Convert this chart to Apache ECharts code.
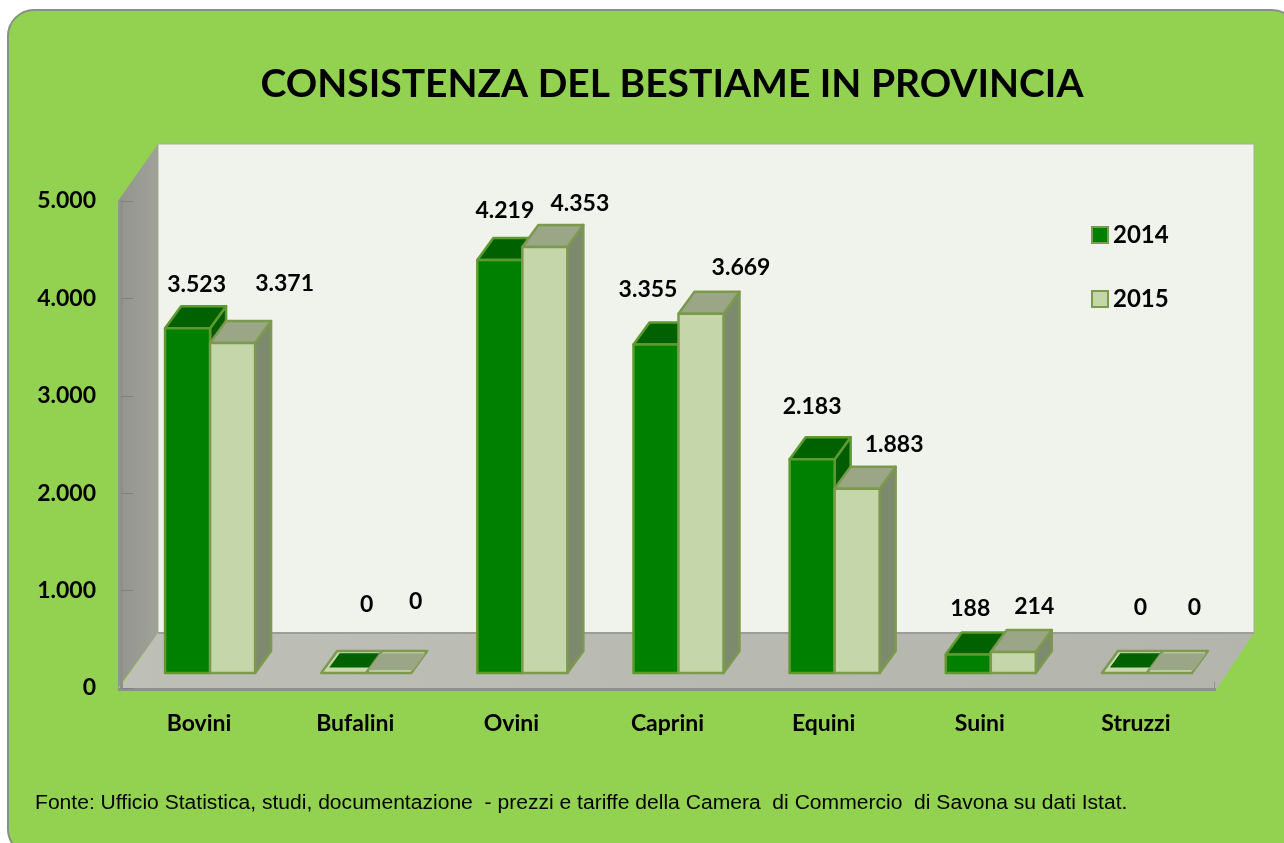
<!DOCTYPE html>
<html>
<head>
<meta charset="utf-8">
<style>
  html, body { margin: 0; padding: 0; background: #fff; }
  #chart { width: 1284px; height: 843px; }
</style>
<script src="https://cdn.jsdelivr.net/npm/echarts@6/dist/echarts.min.js"></script>
</head>
<body>
<div id="chart"></div>
<script>
const categories = ['Bovini', 'Bufalini', 'Ovini', 'Caprini', 'Equini', 'Suini', 'Struzzi'];
const values2014 = [3523, 0, 4219, 3355, 2183, 188, 0];
const values2015 = [3371, 0, 4353, 3669, 1883, 214, 0];

// the value labels were moved by hand in the original, so each has its own nudge
const nudge2014 = [[9, -44], [23, -68], [5, -49], [-8, -55], [0, -53], [2, -46], [16, -65]];
const nudge2015 = [[52, -59], [27, -71], [35, -43], [40, -46], [37, -44], [21, -45], [25, -65]];

const BG = '#92d250';
const LABEL_FONT = 'Lato, "Open Sans", sans-serif';

const DEPTH_X = 40, DEPTH_Y = -56;  // wall depth
const BAR_DX = 11, BAR_DY = -15;    // bars stand a bit behind the front edge
const TOP_DX = 16, TOP_DY = -22;    // depth of a bar
const BAR_W = 45;

const palette2014 = { front: '#008000', top: '#006100', side: '#005c00', rim: '#c9d8b0', edge: '#5f9a2e' };
const palette2015 = { front: '#c6d6ab', top: '#9ba687', side: '#7e8a6d', rim: '#c9d8b0', edge: '#7c9a4e' };

function fmt(v) {
    return String(v).replace(/\B(?=(\d{3})+$)/g, '.');
}

function poly(points, fill, stroke, lw) {
    return {
        type: 'polygon',
        shape: { points: points },
        style: { fill: fill, stroke: stroke || null, lineWidth: lw || 0, lineJoin: 'round' }
    };
}

function grad(x, y, x2, y2, c1, c2) {
    return new echarts.graphic.LinearGradient(x, y, x2, y2, [
        { offset: 0, color: c1 },
        { offset: 1, color: c2 }
    ]);
}

// back wall, side wall and floor, worked out from the grid rect
function renderRoom(params) {
    const g = params.coordSys;
    const l = g.x - 3, r = g.x + g.width, t = g.y, b = g.y + g.height;
    const backTop = t + DEPTH_Y - 1, backBottom = b + DEPTH_Y + 1;
    return {
        type: 'group',
        children: [
            poly([[l + DEPTH_X, backTop], [r + DEPTH_X, backTop], [r + DEPTH_X, backBottom], [l + DEPTH_X, backBottom]],
                '#f0f3ec', '#a3b58d', 1),
            poly([[l, t], [l + DEPTH_X, backTop], [l + DEPTH_X, backBottom], [l, b]],
                grad(0, 0, 1, 0, '#92948d', '#a0a29a')),
            poly([[l, b + 2], [l + DEPTH_X, backBottom], [r + DEPTH_X, backBottom], [r + 2, b + 2]],
                grad(0, 1, 1, 0, '#bec0b8', '#b3b5ad')),
            { type: 'rect', shape: { x: l + DEPTH_X, y: backBottom - 1, width: r - l, height: 2 }, style: { fill: '#9c9e97' } },
            { type: 'rect', shape: { x: l, y: b, width: r - l + 2, height: 3 }, style: { fill: '#8e908a' } },
            { type: 'rect', shape: { x: r, y: b - 6, width: 1, height: 6 }, style: { fill: '#8e908a' } }
        ]
    };
}

function renderBars(palette, nudge, side) {
    return function (params, api) {
        const i = api.value(0), v = api.value(1);
        const base = api.coord([i, 0]);
        const cx = base[0] + BAR_DX;
        const x0 = side < 0 ? cx - BAR_W : cx;
        const x1 = x0 + BAR_W;
        const y0 = base[1] + BAR_DY;
        const h = (base[1] - api.coord([i, v])[1]) * 1.005;
        const yt = y0 - h;
        const edge = palette.edge;
        const children = [];

        if (v === 0) {
            // flat bar: only the rim and an inset top
            children.push(poly([[x0, y0], [x1, y0], [x1 + TOP_DX, y0 + TOP_DY], [x0 + TOP_DX, y0 + TOP_DY]], palette.rim, palette2015.edge, 2.5));
            const a = side < 0 ? 0.25 : 0.12, c = 0.9;
            const inX = side < 0 ? 4 : 0;
            children.push(poly([
                [x0 + TOP_DX * a + inX, y0 + TOP_DY * a],
                [x1 + TOP_DX * a, y0 + TOP_DY * a],
                [x1 + TOP_DX * c, y0 + TOP_DY * c],
                [x0 + TOP_DX * c + inX, y0 + TOP_DY * c]
            ], palette.top));
        } else {
            children.push(poly([[x1, yt], [x1 + TOP_DX, yt + TOP_DY], [x1 + TOP_DX, y0 + TOP_DY], [x1, y0]], palette.side, edge, 2.5));
            children.push(poly([[x0, yt], [x1, yt], [x1 + TOP_DX, yt + TOP_DY], [x0 + TOP_DX, yt + TOP_DY]], palette.top, edge, 2.5));
            children.push(poly([[x0, yt], [x1, yt], [x1, y0], [x0, y0]], palette.front, edge, 2.5));
        }

        children.push({
            type: 'text',
            z2: 50,
            style: {
                x: (x0 + x1) / 2 + nudge[i][0],
                y: yt + nudge[i][1],
                text: fmt(v),
                align: 'center',
                verticalAlign: 'middle',
                fill: '#000',
                font: 'bold 23px ' + LABEL_FONT
            }
        });
        return { type: 'group', children: children };
    };
}

const chart = echarts.init(document.getElementById('chart'), null, { renderer: 'canvas' });

chart.setOption({
    animation: false,
    backgroundColor: '#fff',
    graphic: [
        {
            type: 'rect',
            z: -10,
            shape: { x: 8, y: 10, width: 1290, height: 845, r: 26 },
            style: { fill: BG, stroke: '#8b9085', lineWidth: 2 }
        },
        {
            type: 'text',
            z: 10,
            x: 35,
            y: 803,
            scaleX: 1.054,
            style: {
                text: 'Fonte: Ufficio Statistica, studi, documentazione  - prezzi e tariffe della Camera  di Commercio  di Savona su dati Istat.',
                verticalAlign: 'middle',
                fill: '#000',
                font: '20px "Liberation Sans", Arial, sans-serif'
            }
        }
    ],
    title: {
        text: 'CONSISTENZA DEL BESTIAME IN PROVINCIA',
        left: 667,
        top: 60,
        textAlign: 'center',
        textStyle: { color: '#000', fontFamily: LABEL_FONT, fontWeight: 'bold', fontSize: 39 }
    },
    legend: {
        orient: 'vertical',
        left: 1086,
        top: 218,
        itemWidth: 16,
        itemHeight: 16,
        itemGap: 40,
        icon: 'rect',
        textStyle: { color: '#000', fontFamily: LABEL_FONT, fontWeight: 'bold', fontSize: 24 },
        data: [
            { name: '2014', itemStyle: { color: palette2014.front, borderColor: palette2015.edge, borderWidth: 2 } },
            { name: '2015', itemStyle: { color: palette2015.front, borderColor: palette2015.edge, borderWidth: 2 } }
        ]
    },
    grid: { left: 121, right: 70, top: 201, bottom: 155 },
    xAxis: {
        type: 'category',
        data: categories,
        z: 2,
        axisLine: { show: false },
        axisTick: { alignWithLabel: true, inside: true, length: 6, lineStyle: { color: '#8e908a' } },
        axisLabel: { color: '#000', fontFamily: LABEL_FONT, fontWeight: 'bold', fontSize: 23, margin: 24 }
    },
    yAxis: {
        type: 'value',
        min: 0,
        max: 5000,
        interval: 1000,
        z: 2,
        splitLine: { show: false },
        axisLine: { show: true, onZero: false, lineStyle: { color: '#8e908a', width: 3 } },
        axisTick: { show: true, inside: true, length: 12, lineStyle: { color: '#7f817b' } },
        axisLabel: { color: '#000', fontFamily: LABEL_FONT, fontWeight: 'bold', fontSize: 23, margin: 25, formatter: fmt }
    },
    series: [
        {
            type: 'custom',
            name: 'room',
            silent: true,
            clip: false,
            z: 1,
            renderItem: renderRoom,
            data: [[0, 0]]
        },
        {
            type: 'custom',
            name: '2014',
            clip: false,
            z: 3,
            itemStyle: { color: palette2014.front },
            renderItem: renderBars(palette2014, nudge2014, -1),
            encode: { x: 0, y: 1 },
            data: values2014.map((v, i) => [i, v])
        },
        {
            type: 'custom',
            name: '2015',
            clip: false,
            z: 4,
            itemStyle: { color: palette2015.front },
            renderItem: renderBars(palette2015, nudge2015, 1),
            encode: { x: 0, y: 1 },
            data: values2015.map((v, i) => [i, v])
        }
    ]
});

window.addEventListener('resize', () => {
    chart.resize();
});
</script>
</body>
</html>
